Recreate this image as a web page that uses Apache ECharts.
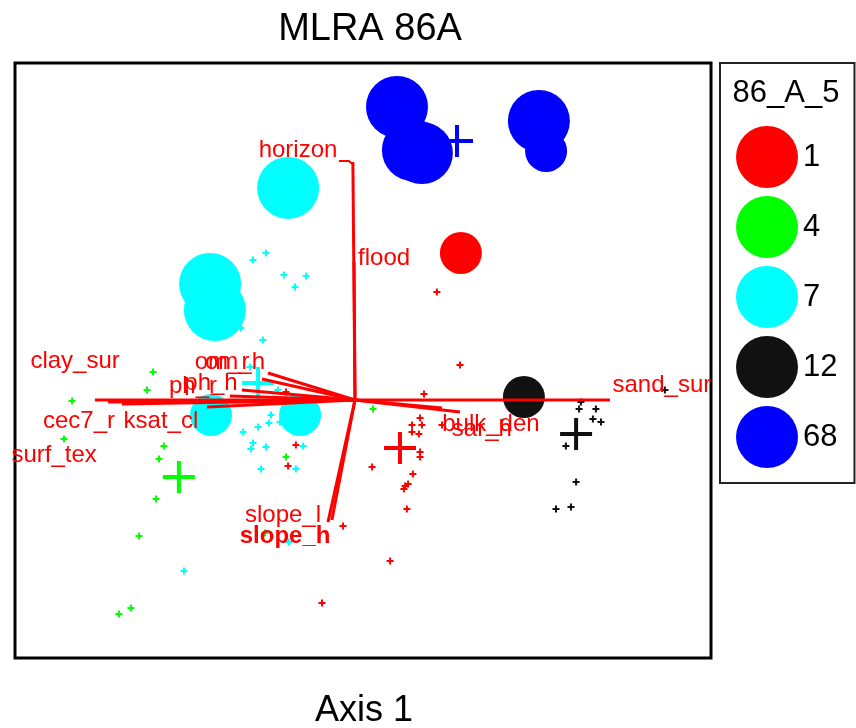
<!DOCTYPE html>
<html>
<head>
<meta charset="utf-8">
<script src="https://cdn.jsdelivr.net/npm/echarts@6/dist/echarts.min.js"></script>
<style>
  html, body { margin: 0; padding: 0; background: #fff; }
  #chart { width: 856px; height: 728px; }
</style>
</head>
<body>
<div id="chart"></div>
<script>
// groups of 86_A_5
var classes = ['1', '4', '7', '12', '68'];
var classColors = ['#ff0000', '#00ff00', '#00ffff', '#111111', '#0000ff'];

// big circles (site scores), weight 2 = big, 1 = small
var siteX = [0.353, -0.223, -0.483, -0.467, -0.48, -0.183, 0.563, 0.14, 0.193, 0.223, 0.613, 0.637];
var siteY = [0.49, 0.707, 0.387, 0.3, -0.05, -0.05, 0.01, 0.977, 0.833, 0.823, 0.93, 0.83];
var siteCls = ['1', '7', '7', '7', '7', '7', '12', '68', '68', '68', '68', '68'];
var siteW = [1, 2, 2, 2, 1, 1, 1, 2, 2, 2, 2, 1];

// small points per group
var pts1 = [[0.273, 0.36], [0.35, 0.117], [0.23, 0.02], [0.217, -0.06], [0.19, -0.083], [0.223, -0.083],
  [0.19, -0.107], [0.213, -0.113], [0.29, -0.083], [0.217, -0.173], [0.217, -0.19], [0.057, -0.223],
  [0.193, -0.247], [0.177, -0.28], [0.167, -0.287], [0.163, -0.297], [0.173, -0.363], [-0.04, -0.42],
  [0.117, -0.537], [-0.11, -0.677], [-0.197, -0.15], [-0.223, -0.22], [-0.23, 0.027]];
var pts4 = [[-0.673, 0.093], [-0.693, 0.033], [-0.943, -0.003], [-0.97, -0.13], [-0.637, -0.153],
  [-0.653, -0.197], [-0.663, -0.33], [-0.72, -0.453], [-0.747, -0.693], [-0.787, -0.713],
  [-0.23, -0.19], [-0.3, -0.443], [0.06, -0.03]];
var pts7 = [[-0.34, 0.467], [-0.297, 0.49], [-0.237, 0.417], [-0.163, 0.413], [-0.2, 0.377], [-0.38, 0.24],
  [-0.307, 0.2], [-0.35, 0.11], [-0.257, 0.033], [-0.28, -0.05], [-0.287, -0.077], [-0.25, -0.073],
  [-0.323, -0.09], [-0.373, -0.107], [-0.34, -0.143], [-0.347, -0.163], [-0.297, -0.157], [-0.173, -0.153],
  [-0.313, -0.23], [-0.197, -0.23], [-0.57, -0.57], [-0.22, -0.473]];
var pts12 = [[1.033, 0.033], [0.753, -0.007], [0.747, -0.03], [0.803, -0.03], [0.793, -0.063], [0.82, -0.073],
  [0.703, -0.153], [0.737, -0.273], [0.67, -0.363], [0.72, -0.357]];
var pts68 = [];
var ptsByClass = [pts1, pts4, pts7, pts12, pts68];

// group centroids
var cenX = [0.15, -0.587, -0.323, 0.737, 0.34];
var cenY = [-0.16, -0.257, 0.057, -0.113, 0.863];

// environmental vectors
var vecNames = ['horizon', 'flood', 'sand_sur', 'clay_sur', 'surf_tex', 'cec7_r', 'ksat_cl', 'ph_r', 'ph_h',
  'om_r', 'om_h', 'bulk_den', 'sar_h', 'slope_l', 'slope_h'];
var vecX = [-0.007, -0.003, 0.85, -0.867, -0.823, -0.777, -0.493, -0.417, -0.377, -0.31, -0.29, 0.35, 0.29, -0.077, -0.09];
var vecY = [0.793, 0.46, 0, 0, -0.007, -0.013, -0.023, 0.013, 0.033, 0.07, 0.09, -0.04, -0.027, -0.4, -0.407];
var labX = [-0.19, 0.097, 1.023, -0.933, -1.003, -0.92, -0.647, -0.54, -0.48, -0.443, -0.4, 0.453, 0.423, -0.24, -0.233];
var labY = [0.833, 0.473, 0.05, 0.13, -0.183, -0.07, -0.07, 0.047, 0.057, 0.127, 0.127, -0.08, -0.097, -0.383, -0.453];

var FONT = '"Liberation Sans", Arial, sans-serif';
var bigCross = 'path://M7,0H9V7H16V9H9V16H7V9H0V7H7Z';
var smallCross = 'path://M2.5,0H4.5V2.5H7V4.5H4.5V7H2.5V4.5H0V2.5H2.5Z';

var myChart = echarts.init(document.getElementById('chart'));

var series = [];
classes.forEach(function (cls, i) {
    series.push({
        name: 'pts_' + cls,
        type: 'scatter',
        z: 2,
        silent: true,
        symbol: smallCross,
        symbolSize: 7,
        itemStyle: { color: classColors[i], opacity: 1 },
        data: ptsByClass[i]
    });
    series.push({
        name: 'cen_' + cls,
        type: 'scatter',
        z: 3,
        silent: true,
        symbol: bigCross,
        symbolSize: 32,
        itemStyle: { color: classColors[i], opacity: 1 },
        data: [[cenX[i], cenY[i]]]
    });
    var d = [];
    for (var k = 0; k < siteX.length; k++) {
        if (siteCls[k] === cls) d.push([siteX[k], siteY[k], siteW[k]]);
    }
    series.push({
        name: cls,
        type: 'scatter',
        z: 4,
        silent: true,
        symbol: 'circle',
        symbolSize: function (v) { return v[2] === 2 ? 62 : 42; },
        itemStyle: { color: classColors[i], opacity: 1 },
        data: d
    });
});

// arrows from the origin
series.push({
    type: 'custom',
    z: 5,
    silent: true,
    data: vecX.map(function (x, i) { return [x, vecY[i], i]; }),
    renderItem: function (params, api) {
        var o = api.coord([0, 0]);
        var t = api.coord([api.value(0), api.value(1)]);
        var children = [{
            type: 'line',
            shape: { x1: o[0], y1: o[1], x2: t[0], y2: t[1] },
            style: { stroke: '#ff0000', lineWidth: 3 }
        }];
        if (vecNames[api.value(2)] === 'horizon') {
            children.push({
                type: 'polyline',
                shape: { points: [[t[0], t[1] + 2], [t[0] - 4, t[1] - 1], [t[0] - 14, t[1] - 1]] },
                style: { stroke: '#ff0000', lineWidth: 2, fill: null }
            });
        }
        return { type: 'group', children: children };
    }
});

// vector labels
series.push({
    type: 'custom',
    z: 6,
    silent: true,
    data: labX.map(function (x, i) { return [x, labY[i], i]; }),
    renderItem: function (params, api) {
        var p = api.coord([api.value(0), api.value(1)]);
        var name = vecNames[api.value(2)];
        return {
            type: 'text',
            x: p[0],
            y: p[1],
            style: {
                text: name,
                fill: '#ff0000',
                fontFamily: FONT,
                fontSize: 24,
                fontWeight: name === 'slope_h' ? 'bold' : 'normal',
                align: 'center',
                verticalAlign: 'middle'
            }
        };
    }
});

var option = {
    animation: false,
    backgroundColor: '#fff',
    grid: {
        show: true, left: 15, top: 63, width: 696, height: 595,
        borderColor: '#000', borderWidth: 3, backgroundColor: '#fff'
    },
    xAxis: { type: 'value', min: -1.1333, max: 1.1867, show: false },
    yAxis: { type: 'value', min: -0.86, max: 1.1233, show: false },
    legend: {
        data: classes.map(function (c) { return { name: c, icon: 'circle' }; }),
        orient: 'vertical',
        left: 720, top: 63,
        itemWidth: 62, itemHeight: 62, itemGap: 8,
        padding: [63, 17, 15, 16],
        borderColor: '#222', borderWidth: 2,
        selectedMode: false,
        textStyle: { fontSize: 31, color: '#000', fontFamily: FONT }
    },
    graphic: [
        { type: 'text', x: 370, y: 30, style: { text: 'MLRA 86A', fontSize: 38, fontFamily: FONT, fill: '#000', align: 'center', verticalAlign: 'middle' } },
        { type: 'text', x: 364, y: 711, style: { text: 'Axis 1', fontSize: 36, fontFamily: FONT, fill: '#000', align: 'center', verticalAlign: 'middle' } },
        { type: 'text', x: 786, y: 93, style: { text: '86_A_5', fontSize: 31, fontFamily: FONT, fill: '#000', align: 'center', verticalAlign: 'middle' } }
    ],
    series: series
};
myChart.setOption(option);
</script>
</body>
</html>
